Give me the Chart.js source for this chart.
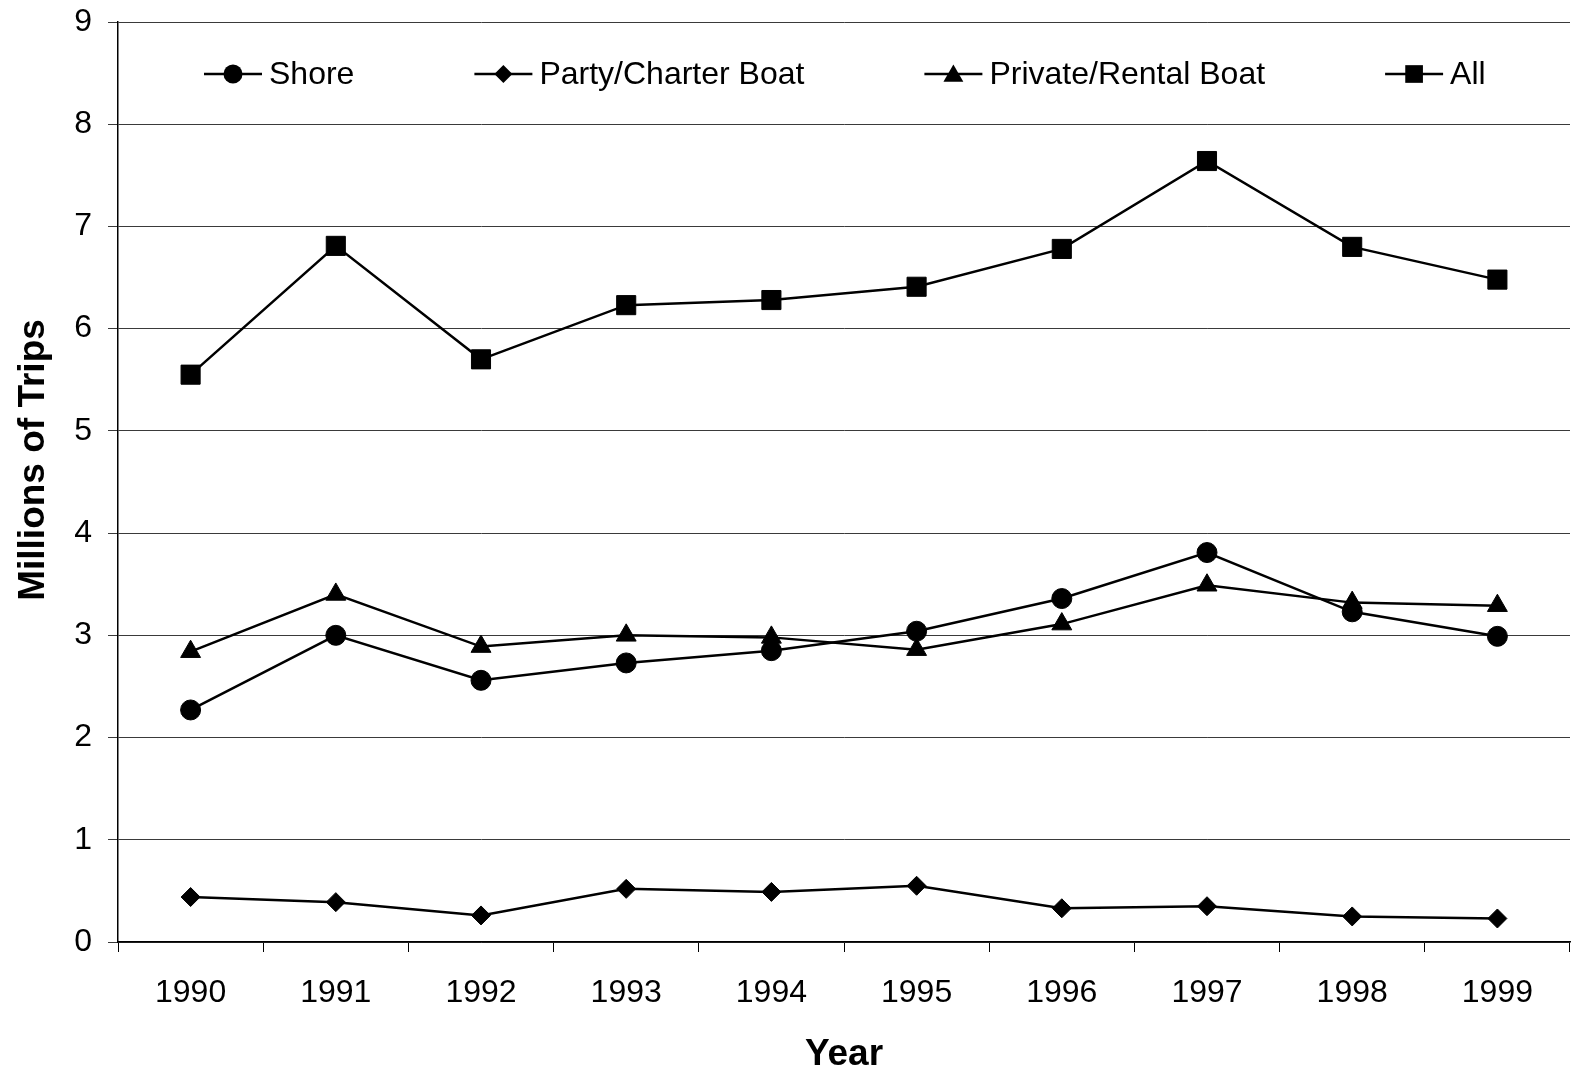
<!DOCTYPE html>
<html>
<head>
<meta charset="utf-8">
<style>
  html, body { margin: 0; padding: 0; background: #fff; }
  #wrap { width: 1572px; height: 1068px; }
</style>
<script src="https://cdn.jsdelivr.net/npm/chart.js@4/dist/chart.umd.min.js"></script>
</head>
<body>
<div id="wrap"><canvas id="trips" width="1572" height="1068"></canvas></div>
<script>
// Recreational fishing trips by mode, millions
const years = ['1990', '1991', '1992', '1993', '1994', '1995', '1996', '1997', '1998', '1999'];
const shore = [2.27, 3.00, 2.56, 2.73, 2.85, 3.04, 3.36, 3.81, 3.23, 2.99];
const partyCharter = [0.44, 0.39, 0.26, 0.52, 0.49, 0.55, 0.33, 0.35, 0.25, 0.23];
const privateRental = [2.84, 3.40, 2.89, 3.00, 2.98, 2.86, 3.11, 3.49, 3.32, 3.29];
const allModes = [5.55, 6.81, 5.70, 6.23, 6.28, 6.41, 6.78, 7.64, 6.80, 6.48];
const yTickValues = [0, 1, 2, 3, 4, 5, 6, 7, 8, 9];
const xTitle = 'Year';
const yTitle = 'Millions of Trips';

const FONT = "'Liberation Sans', Arial, Helvetica, sans-serif";

function series(label, data, pointStyle, radius) {
  return {
    label, data, pointStyle,
    borderColor: '#000',
    backgroundColor: '#000',
    borderWidth: 2.5,
    pointRadius: radius,
    pointBorderWidth: 1,
    pointBackgroundColor: '#000',
    pointBorderColor: '#000',
    tension: 0,
    fill: false
  };
}

function marker(ctx, style, x, y, r) {
  ctx.beginPath();
  if (style === 'circle') {
    ctx.arc(x, y, r, 0, Math.PI * 2);
  } else if (style === 'rectRot') {
    ctx.moveTo(x, y - r); ctx.lineTo(x + r, y); ctx.lineTo(x, y + r); ctx.lineTo(x - r, y);
    ctx.closePath();
  } else if (style === 'triangle') {
    const h = r * Math.sqrt(3) / 2;
    ctx.moveTo(x, y - r); ctx.lineTo(x + h, y + r / 2); ctx.lineTo(x - h, y + r / 2);
    ctx.closePath();
  } else {
    const s = r * Math.SQRT1_2;
    ctx.rect(x - s, y - s, 2 * s, 2 * s);
  }
  ctx.fill();
}

const legendMarkerSize = { circle: 9.5, rectRot: 9, triangle: 11.5, rect: 12.5 };

// Line-and-marker legend drawn in a single row inside the plot area
const lineLegend = {
  id: 'lineLegend',
  afterDraw(chart) {
    const ctx = chart.ctx;
    const y = 74;
    const lineLen = 58;
    const gap = 120;
    let x = chart.chartArea.left + 86;
    ctx.save();
    ctx.font = '32px ' + FONT;
    ctx.textBaseline = 'middle';
    ctx.fillStyle = '#000';
    ctx.strokeStyle = '#000';
    chart.data.datasets.forEach(ds => {
      ctx.lineWidth = 2.5;
      ctx.beginPath();
      ctx.moveTo(x, y); ctx.lineTo(x + lineLen, y);
      ctx.stroke();
      marker(ctx, ds.pointStyle, x + lineLen / 2, y + (ds.pointStyle === 'triangle' ? 2 : 0), legendMarkerSize[ds.pointStyle]);
      const tx = x + lineLen + 7;
      ctx.fillText(ds.label, tx, y + 1);
      x = tx + ctx.measureText(ds.label).width + gap;
    });
    ctx.restore();
  }
};

// Vertical axis title, set a little above the middle of the value axis
const valueAxisTitle = {
  id: 'valueAxisTitle',
  afterDraw(chart) {
    const ctx = chart.ctx;
    ctx.save();
    ctx.translate(34, 460);
    ctx.rotate(-Math.PI / 2);
    ctx.font = 'bold 37px ' + FONT;
    ctx.fillStyle = '#000';
    ctx.textAlign = 'center';
    ctx.textBaseline = 'middle';
    ctx.fillText(yTitle, 0, 0);
    ctx.restore();
  }
};

new Chart(document.getElementById('trips'), {
  type: 'line',
  data: {
    labels: years,
    datasets: [
      series('Shore', shore, 'circle', 10),
      series('Party/Charter Boat', partyCharter, 'rectRot', 9.5),
      series('Private/Rental Boat', privateRental, 'triangle', 11.5),
      series('All', allModes, 'rect', 13.5)
    ]
  },
  options: {
    responsive: false,
    animation: false,
    devicePixelRatio: 1,
    layout: { autoPadding: false, padding: { top: 22, right: 2, left: 0, bottom: 0 } },
    plugins: {
      legend: { display: false },
      tooltip: { enabled: false }
    },
    scales: {
      x: {
        type: 'category',
        offset: true,
        grid: {
          offset: true,
          drawOnChartArea: false,
          drawTicks: true,
          tickLength: 10,
          color: '#000',
          lineWidth: 1
        },
        border: { color: '#000', width: 1.5 },
        ticks: {
          color: '#000',
          font: { family: FONT, size: 32 },
          padding: 22,
          maxRotation: 0,
          autoSkip: false
        },
        title: {
          display: true,
          text: xTitle,
          color: '#000',
          font: { family: FONT, size: 37, weight: 'bold', lineHeight: 0.7 },
          padding: { top: 0, bottom: 0.5 }
        },
        afterFit(scale) {
          scale.height = 126;
          scale.paddingLeft = 0;
          scale.paddingRight = 0;
        }
      },
      y: {
        min: 0,
        max: 9,
        afterBuildTicks(scale) { scale.ticks = yTickValues.map(v => ({ value: v })); },
        grid: {
          color: '#3a3a3a',
          lineWidth: 1,
          drawTicks: true,
          tickLength: 10
        },
        border: { color: '#000', width: 1.5 },
        ticks: {
          color: '#000',
          font: { family: FONT, size: 32 },
          padding: 16
        },
        title: { display: false },
        afterFit(scale) {
          scale.width = 118;
          scale.paddingTop = 0;
          scale.paddingBottom = 0;
        }
      }
    }
  },
  plugins: [lineLegend, valueAxisTitle]
});
</script>
</body>
</html>
